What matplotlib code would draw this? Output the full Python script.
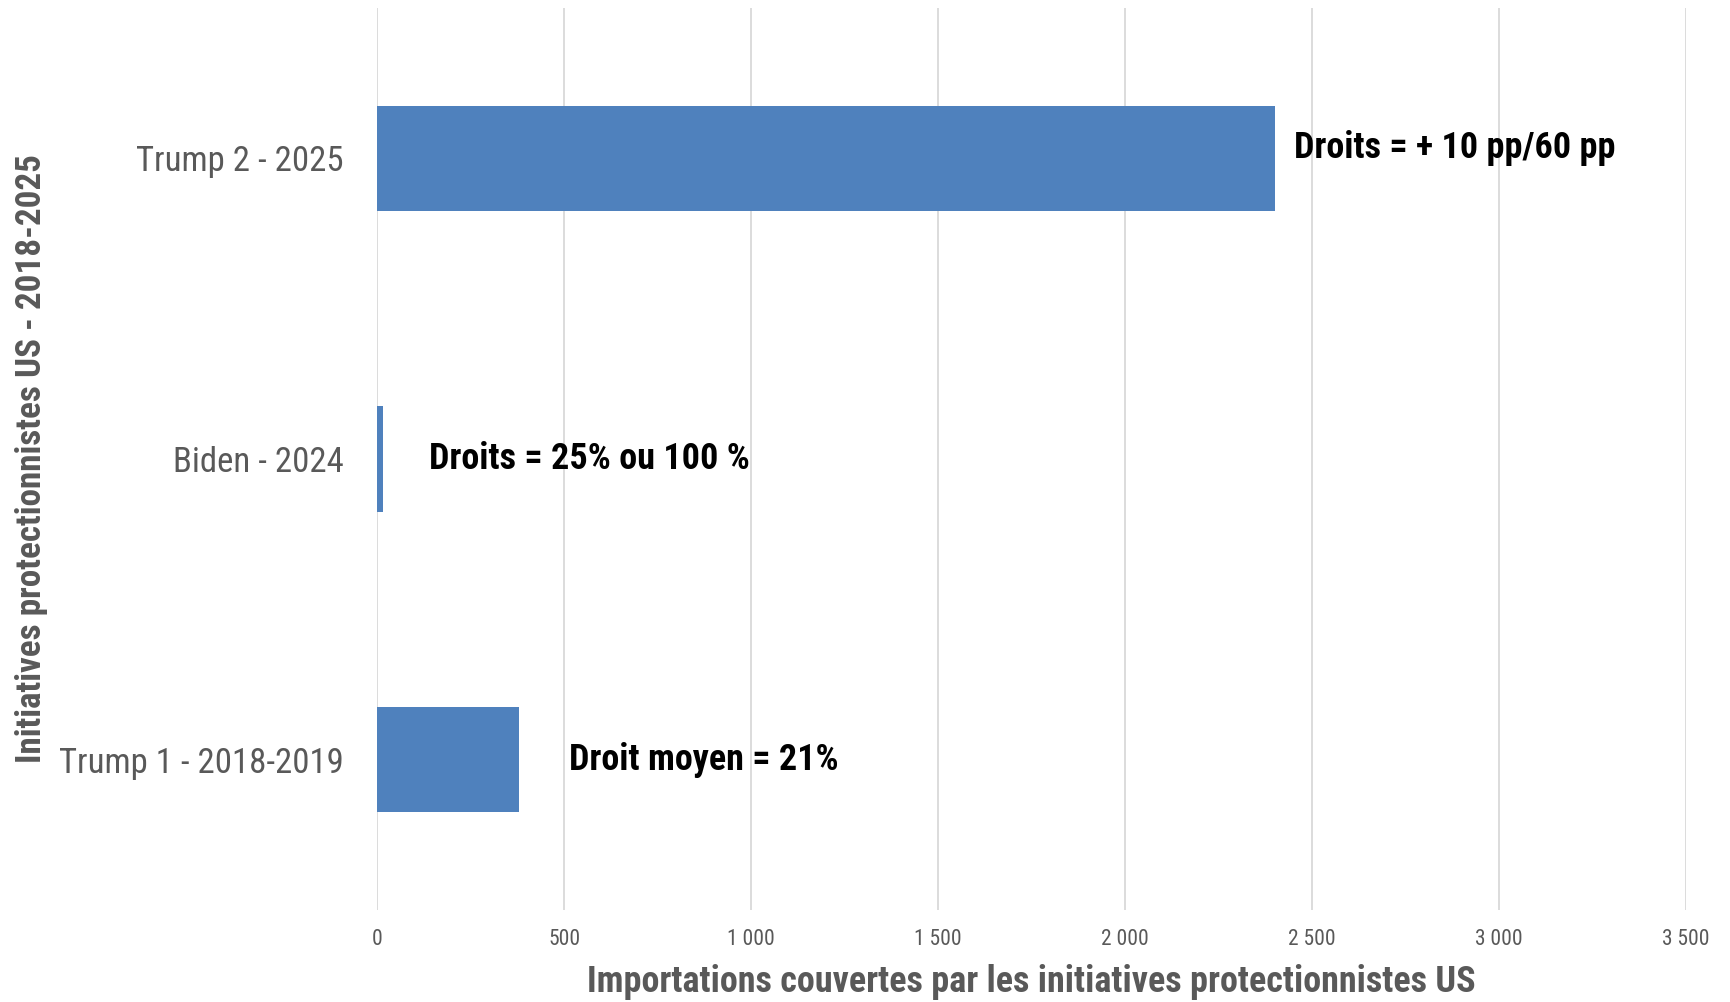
import matplotlib.pyplot as plt
import matplotlib.ticker as mticker

# data
categories = ['Trump 1 - 2018-2019', 'Biden - 2024', 'Trump 2 - 2025']
imports = [380, 17, 2400]
notes = ['Droit moyen = 21%', 'Droits = 25% ou 100 %', 'Droits = + 10 pp/60 pp']
noteX = [514, 139, 2452]
noteDy = [0.0, 0.0, 0.033]
xticks = [0, 500, 1000, 1500, 2000, 2500, 3000, 3500]

narrow = ['Roboto Condensed', 'DejaVu Sans']
gray = '#595959'
blue = '#4F81BD'

fig = plt.figure(figsize=(17.30, 10.02), dpi=100)
ax = fig.add_axes([0.218, 0.092, 0.7566, 0.900])

ypos = range(len(categories))
ax.barh(ypos, imports, height=0.35, color=blue, zorder=3)

for ii, txt in enumerate(notes):
    ax.text(noteX[ii], ii + noteDy[ii], txt, va='center', ha='left',
            fontsize=26, fontweight='bold', family=narrow, color='black', zorder=4)

ax.set_xlim(0, 3500)
ax.set_ylim(-0.5, 2.5)
ax.set_xticks(xticks)
ax.xaxis.set_major_formatter(mticker.FuncFormatter(lambda v, p: f'{int(v):,}'.replace(',', ' ')))
ax.set_yticks(list(ypos))
ax.set_yticklabels(categories)

for label in ax.get_xticklabels():
    label.set_fontsize(15.5)
    label.set_family(narrow)
    label.set_color(gray)
for label in ax.get_yticklabels():
    label.set_fontsize(25)
    label.set_family(narrow)
    label.set_color(gray)

ax.tick_params(axis='both', length=0)
ax.tick_params(axis='x', pad=14)
ax.tick_params(axis='y', pad=24)
ax.grid(True, axis='x', color='#d9d9d9', lw=1.3, zorder=0)
for s in ax.spines.values():
    s.set_visible(False)

ax.set_xlabel('Importations couvertes par les initiatives protectionnistes US',
              fontsize=26, fontweight='bold', family=narrow, color=gray, va='center')
ax.xaxis.set_label_coords(0.5, -0.08)
ax.set_ylabel('Initiatives protectionnistes US - 2018-2025',
              fontsize=25.3, fontweight='bold', family=narrow, color=gray, va='center')
ax.yaxis.set_label_coords(-0.264, 0.5)

fig.savefig('out.png', dpi=100)
